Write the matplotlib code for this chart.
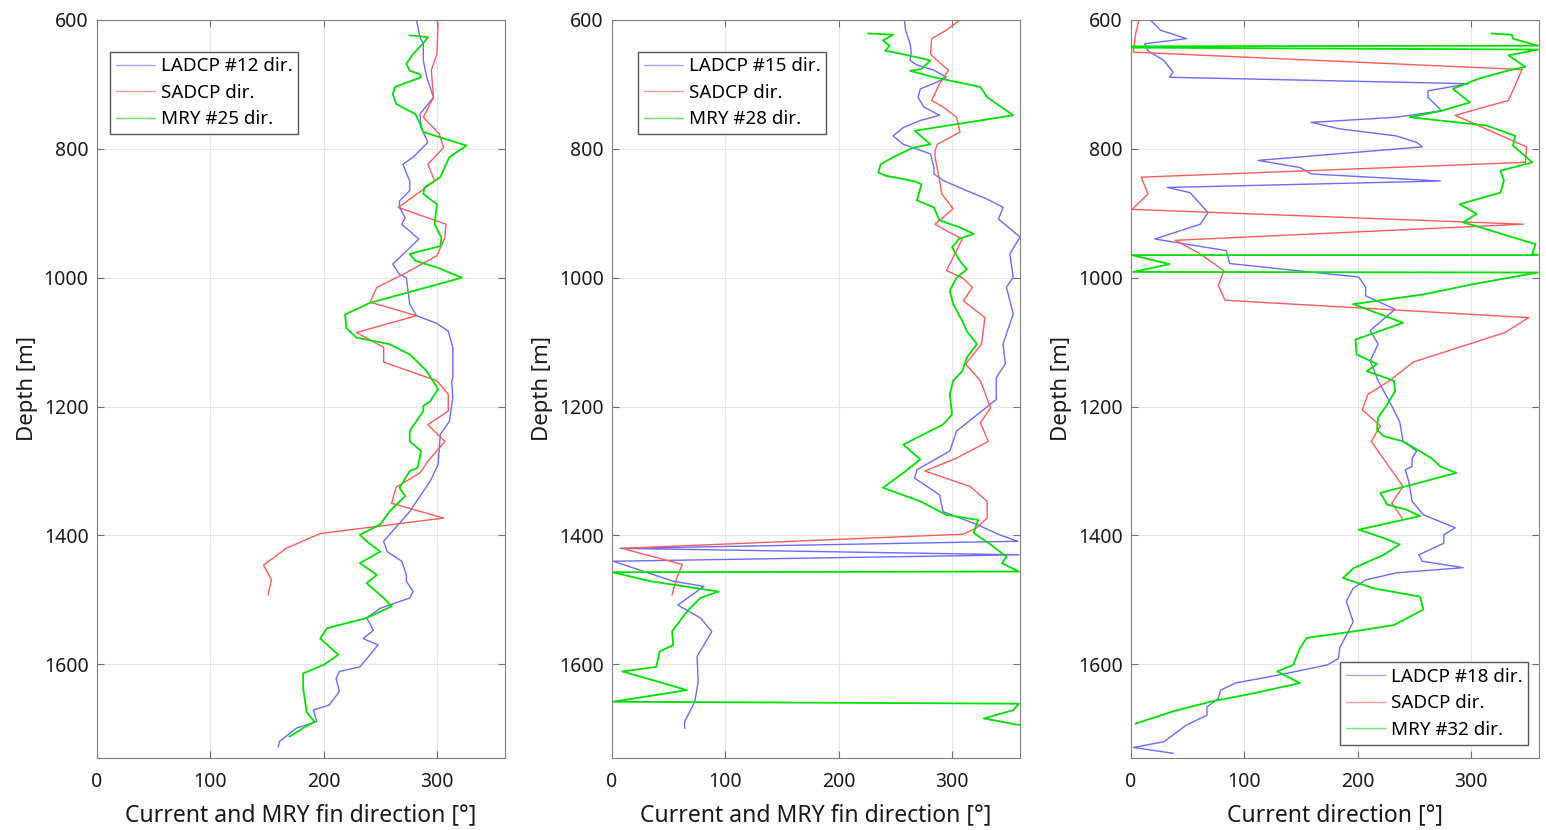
import matplotlib
matplotlib.use("Agg")
import matplotlib.pyplot as plt

plt.rcParams['font.family'] = ['Noto Sans', 'DejaVu Sans']

# ---- panel 1 : LADCP #12 / SADCP / MRY #25
p1_ladcp_dir = [282, 285, 288, 288, 291, 297, 285, 286, 292, 279, 270, 276, 276, 267, 267, 272, 269, 284,
                261, 267, 273, 276, 282, 300, 310, 314, 314, 313, 314, 311, 303, 301, 294, 282, 276, 253,
                256, 269, 273, 273, 279, 276, 250, 238, 244, 235, 248, 241, 232, 214, 211, 214, 205, 191,
                194, 176, 161, 160]
p1_ladcp_depth = [600, 627, 637, 663, 689, 720, 746, 767, 790, 813, 824, 850, 865, 881, 891, 907, 917, 940,
                  979, 995, 1000, 1041, 1059, 1071, 1083, 1108, 1155, 1160, 1186, 1223, 1243, 1290, 1316,
                  1347, 1363, 1409, 1425, 1440, 1461, 1471, 1487, 1497, 1513, 1528, 1547, 1560, 1570, 1585,
                  1604, 1611, 1622, 1642, 1663, 1671, 1689, 1699, 1720, 1728]

p1_sadcp_dir = [300, 301, 300, 295, 297, 288, 302, 306, 292, 298, 266, 308, 307, 300, 270, 247, 241, 282,
                229, 253, 253, 300, 310, 310, 292, 307, 292, 285, 264, 260, 306, 247, 197, 167, 147, 154, 151]
p1_sadcp_depth = [600, 606, 653, 678, 720, 751, 777, 798, 824, 850, 891, 917, 938, 966, 995, 1015, 1038,
                  1059, 1085, 1108, 1131, 1160, 1181, 1207, 1228, 1254, 1285, 1303, 1325, 1350, 1373, 1386,
                  1397, 1420, 1446, 1469, 1492]

p1_mry_dir = [276, 288, 292, 289, 279, 273, 276, 285, 286, 263, 261, 264, 272, 281, 285, 288, 326, 311,
              308, 303, 289, 288, 300, 298, 304, 303, 276, 281, 300, 322, 241, 219, 220, 229, 258, 276,
              282, 291, 301, 294, 288, 288, 276, 276, 286, 283, 276, 267, 272, 258, 250, 232, 238, 250,
              232, 247, 238, 253, 260, 238, 203, 197, 213, 200, 182, 182, 185, 192, 182, 170]
p1_mry_depth = [624, 626, 627, 634, 653, 668, 679, 684, 689, 704, 715, 730, 738, 746, 761, 774, 795, 813,
                824, 844, 860, 870, 886, 917, 938, 951, 963, 974, 984, 1000, 1039, 1057, 1078, 1093, 1103,
                1119, 1129, 1145, 1173, 1192, 1199, 1207, 1238, 1254, 1269, 1295, 1300, 1326, 1339, 1363,
                1383, 1399, 1409, 1425, 1443, 1461, 1474, 1497, 1510, 1528, 1544, 1560, 1585, 1601, 1614,
                1637, 1674, 1689, 1699, 1712]

# ---- panel 2 : LADCP #15 / SADCP / MRY #28
p2_ladcp_dir = [258, 259, 263, 264, 263, 269, 284, 295, 286, 272, 270, 275, 289, 272, 257, 248, 257, 281,
                284, 284, 292, 313, 331, 345, 341, 360, 351, 354, 348, 354, 345, 347, 339, 339, 339, 319,
                304, 298, 269, 267, 289, 292, 322, 342, 358, 7, 359, 1, 54, 81, 58, 78, 88, 75, 76, 73,
                64, 64]
p2_ladcp_depth = [600, 616, 637, 650, 663, 670, 678, 689, 697, 707, 720, 735, 748, 756, 767, 780, 793, 808,
                  829, 839, 849, 865, 878, 891, 909, 937, 963, 999, 1015, 1056, 1103, 1134, 1155, 1160,
                  1189, 1217, 1238, 1269, 1298, 1311, 1337, 1363, 1383, 1399, 1409, 1420, 1430, 1440, 1471,
                  1479, 1508, 1528, 1549, 1588, 1627, 1658, 1689, 1699]

p2_sadcp_dir = [307, 295, 282, 281, 287, 297, 289, 282, 292, 304, 307, 287, 285, 285, 289, 291, 301, 285,
                295, 309, 304, 295, 309, 318, 310, 329, 326, 312, 325, 334, 325, 332, 304, 276, 316, 331,
                331, 322, 310, 9, 62, 57, 53]
p2_sadcp_depth = [600, 616, 629, 653, 663, 678, 699, 725, 735, 751, 774, 793, 803, 813, 849, 870, 893, 917,
                  927, 940, 958, 989, 1000, 1015, 1036, 1062, 1103, 1134, 1160, 1202, 1225, 1254, 1280,
                  1300, 1324, 1347, 1373, 1388, 1398, 1420, 1445, 1466, 1492]

p2_mry_dir = [226, 248, 239, 245, 241, 248, 269, 281, 273, 263, 284, 325, 331, 354, 267, 281, 266, 248,
              237, 235, 242, 266, 273, 269, 284, 289, 307, 319, 306, 300, 307, 313, 304, 298, 301, 309,
              313, 322, 313, 309, 301, 298, 300, 292, 275, 257, 272, 257, 239, 272, 295, 323, 319, 334,
              348, 344, 359, 0, 34, 94, 78, 66, 53, 54, 42, 39, 9, 31, 66, 1, 359, 354, 328, 359]
p2_mry_depth = [621, 623, 632, 640, 648, 650, 658, 663, 676, 679, 689, 704, 720, 748, 772, 793, 798, 813,
                824, 837, 842, 850, 855, 880, 891, 911, 922, 932, 940, 953, 974, 987, 1000, 1020, 1041,
                1067, 1083, 1103, 1124, 1145, 1160, 1181, 1212, 1228, 1243, 1259, 1282, 1303, 1326, 1347,
                1368, 1376, 1396, 1414, 1433, 1443, 1456, 1457, 1471, 1487, 1497, 1518, 1549, 1570, 1580,
                1604, 1611, 1622, 1640, 1658, 1661, 1671, 1684, 1694]

# ---- panel 3 : LADCP #18 / SADCP / MRY #32
p3_ladcp_dir = [17, 26, 49, 12, 15, 29, 37, 34, 298, 262, 262, 274, 234, 159, 184, 234, 252, 257, 112, 149,
                159, 273, 32, 52, 68, 61, 21, 49, 84, 87, 146, 201, 207, 207, 233, 211, 218, 211, 218, 228,
                237, 240, 252, 248, 248, 242, 245, 248, 258, 286, 276, 276, 254, 257, 293, 234, 207, 196,
                190, 196, 184, 183, 173, 129, 92, 79, 77, 67, 67, 49, 29, 2, 37]
p3_ladcp_depth = [600, 616, 629, 637, 648, 663, 681, 689, 699, 710, 720, 741, 751, 759, 769, 780, 790, 797,
                  818, 829, 839, 850, 860, 868, 899, 917, 940, 948, 958, 978, 989, 999, 1015, 1028, 1049,
                  1082, 1103, 1129, 1160, 1192, 1223, 1254, 1269, 1280, 1293, 1298, 1316, 1347, 1368, 1388,
                  1399, 1412, 1430, 1440, 1450, 1458, 1469, 1482, 1502, 1534, 1575, 1591, 1601, 1617, 1629,
                  1640, 1653, 1666, 1679, 1694, 1720, 1729, 1738]

p3_sadcp_dir = [7, 4, 2, 345, 333, 286, 349, 348, 9, 15, 1, 346, 39, 59, 82, 77, 83, 351, 330, 249, 228,
                209, 204, 220, 212, 240, 230, 233, 239]
p3_sadcp_depth = [600, 622, 650, 677, 725, 748, 797, 821, 844, 870, 894, 917, 942, 961, 989, 1012, 1035,
                  1062, 1085, 1131, 1160, 1181, 1205, 1230, 1254, 1324, 1350, 1357, 1373]

p3_mry_dir = [318, 336, 337, 359, 1, 0, 359, 333, 348, 334, 307, 284, 299, 274, 246, 314, 339, 337, 354,
              326, 329, 326, 290, 305, 293, 357, 354, 359, 1, 34, 2, 359, 302, 258, 196, 240, 198, 199,
              217, 208, 232, 233, 226, 218, 217, 223, 240, 265, 273, 287, 220, 226, 243, 255, 201, 223,
              237, 223, 196, 187, 214, 255, 258, 232, 196, 155, 149, 143, 129, 149, 108, 70, 37, 4]
p3_mry_depth = [621, 623, 629, 640, 641, 643, 646, 655, 673, 678, 691, 707, 728, 741, 751, 764, 780, 795,
                821, 834, 849, 868, 886, 901, 914, 948, 963, 965, 965, 979, 991, 992, 1010, 1026, 1041,
                1070, 1096, 1119, 1134, 1145, 1160, 1176, 1197, 1217, 1236, 1246, 1254, 1280, 1293, 1303,
                1334, 1352, 1360, 1370, 1391, 1404, 1414, 1430, 1451, 1466, 1482, 1495, 1515, 1539, 1549,
                1559, 1575, 1601, 1611, 1629, 1645, 1658, 1673, 1692]

panels = [
    (p1_ladcp_dir, p1_ladcp_depth, p1_sadcp_dir, p1_sadcp_depth, p1_mry_dir, p1_mry_depth,
     ["LADCP #12 dir.", "SADCP dir.", "MRY #25 dir."], "Current and MRY fin direction [°]",
     "upper left", (0.032, 0.957)),
    (p2_ladcp_dir, p2_ladcp_depth, p2_sadcp_dir, p2_sadcp_depth, p2_mry_dir, p2_mry_depth,
     ["LADCP #15 dir.", "SADCP dir.", "MRY #28 dir."], "Current and MRY fin direction [°]",
     "upper left", (0.064, 0.957)),
    (p3_ladcp_dir, p3_ladcp_depth, p3_sadcp_dir, p3_sadcp_depth, p3_mry_dir, p3_mry_depth,
     ["LADCP #18 dir.", "SADCP dir.", "MRY #32 dir."], "Current direction [°]",
     "lower right", (0.973, 0.018)),
]

fig = plt.figure(figsize=(15.46, 8.30), dpi=100)
lefts = [0.0627, 0.3959, 0.7316]

for left, (ld, lz, sd, sz, md, mz, labels, xlab, loc, anchor) in zip(lefts, panels):
    ax = fig.add_axes([left, 0.087, 0.2639, 0.889])
    ax.plot(ld, lz, color="#6b6bff", lw=1.0, label=labels[0])
    ax.plot(sd, sz, color="#ff5a5a", lw=1.0, label=labels[1])
    ax.plot(md, mz, color="#00e000", lw=1.3, label=labels[2])
    ax.set_xlim(0, 360)
    ax.set_ylim(1745, 600)
    ax.set_xticks([0, 100, 200, 300])
    ax.set_yticks([600, 800, 1000, 1200, 1400, 1600])
    ax.grid(True, color="#e6e6e6", lw=0.8)
    ax.tick_params(direction="in", top=True, right=True, labelsize=14, length=5,
                   color="#707070", labelcolor="#1a1a1a")
    ax.tick_params(axis="x", pad=10)
    ax.tick_params(axis="y", pad=6)
    for s in ax.spines.values():
        s.set_color("#808080")
    ax.set_xlabel(xlab, fontsize=16.5, labelpad=8, color="#1a1a1a")
    ax.set_ylabel("Depth [m]", fontsize=16, labelpad=4, color="#1a1a1a")
    leg = ax.legend(loc=loc, bbox_to_anchor=anchor, borderaxespad=0, fontsize=13.5,
                    fancybox=False, framealpha=1, edgecolor="#555555", handlelength=2.1,
                    handletextpad=0.3, labelspacing=0.45, borderpad=0.3)
    leg.get_frame().set_linewidth(1.0)
    for h in leg.get_lines():
        h.set_linewidth(1.0)
        h.set_alpha(0.6)

fig.savefig("out.png", dpi=100)
